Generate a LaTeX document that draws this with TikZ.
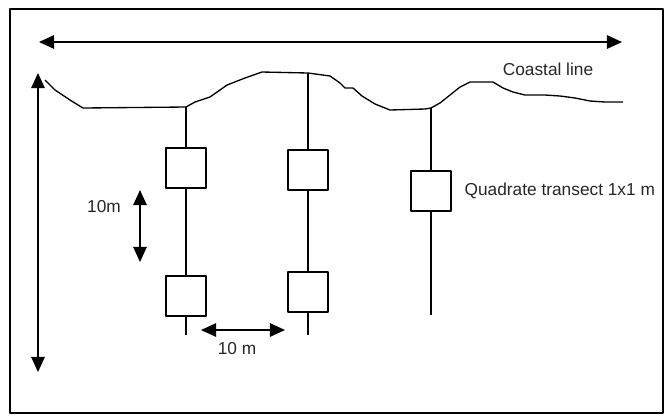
\documentclass[tikz,border=0pt]{standalone}
\usepackage{fontspec}
\setmainfont{Liberation Sans}
\usetikzlibrary{arrows.meta}

\begin{document}
\begin{tikzpicture}[x=0.25mm,y=-0.25mm,line width=0.95pt,line join=round,
        quadrat/.style={draw,fill=white,minimum size=10mm,inner sep=0pt},
        dimarrow/.style={{Triangle[length=3.8mm,width=3.4mm]}-{Triangle[length=3.8mm,width=3.4mm]}},
        lbl/.style={font=\fontsize{12.3}{14}\selectfont,inner sep=0pt,text=black!85}]
                \useasboundingbox (0,0) rectangle (669,417);
                \draw[line width=1.8pt] (10,9) rectangle (663,413);

                \coordinate (W) at (39,42);
                \coordinate (E) at (622,42);
                \coordinate (N) at (38,73);
                \coordinate (S) at (38,372);
                \coordinate (V1) at (140,190);
                \coordinate (V2) at (140,262);
                \coordinate (H1) at (201,330);
                \coordinate (H2) at (285,330);

                \coordinate (L0) at (186,107);
                \coordinate (L1) at (186,335);
                \coordinate (M0) at (308,73);
                \coordinate (M1) at (308,335);
                \coordinate (R0) at (431,108);
                \coordinate (R1) at (431,315);

                \draw (45,80) -- (55,90) -- (70,100) -- (83,108) -- (L0) -- (195,102)
                    -- (210,97) -- (220,90) -- (227,85) -- (245,78) -- (262,72) -- (M0)
                    -- (330,76) -- (340,83) -- (345,88) -- (353,88) -- (362,96)
                    -- (375,104) -- (390,110) -- (425,109) -- (R0) -- (440,103)
                    -- (450,95) -- (460,87) -- (470,82) -- (493,82) -- (503,88)
                    -- (513,92) -- (525,95) -- (545,95) -- (560,96) -- (575,98)
                    -- (590,101) -- (605,102) -- (623,102);

                \node[quadrat] (Q1) at (186,168) {};
                \node[quadrat] (Q2) at (186,296) {};
                \node[quadrat] (Q3) at (308,170) {};
                \node[quadrat] (Q4) at (308,292) {};
                \node[quadrat] (Q5) at (431,191) {};

                \draw (L0) -- (Q1) -- (Q2) -- (L1);
                \draw (M0) -- (Q3) -- (Q4) -- (M1);
                \draw (R0) -- (Q5) -- (R1);

                \draw[dimarrow] (W) -- (E);
                \draw[dimarrow] (N) -- (S);
                \draw[dimarrow] (V1) -- (V2);
                \draw[dimarrow] (H1) -- (H2);

                \node[lbl] (coast) at (548,69) {Coastal line};
                \node[lbl,anchor=west] (qlabel) at (464,191) {Quadrate transect 1x1 m};
                \node[lbl] (vdist) at (104,207) {10m};
                \node[lbl] (hdist) at (237,349) {10 m};
\end{tikzpicture}
\end{document}
